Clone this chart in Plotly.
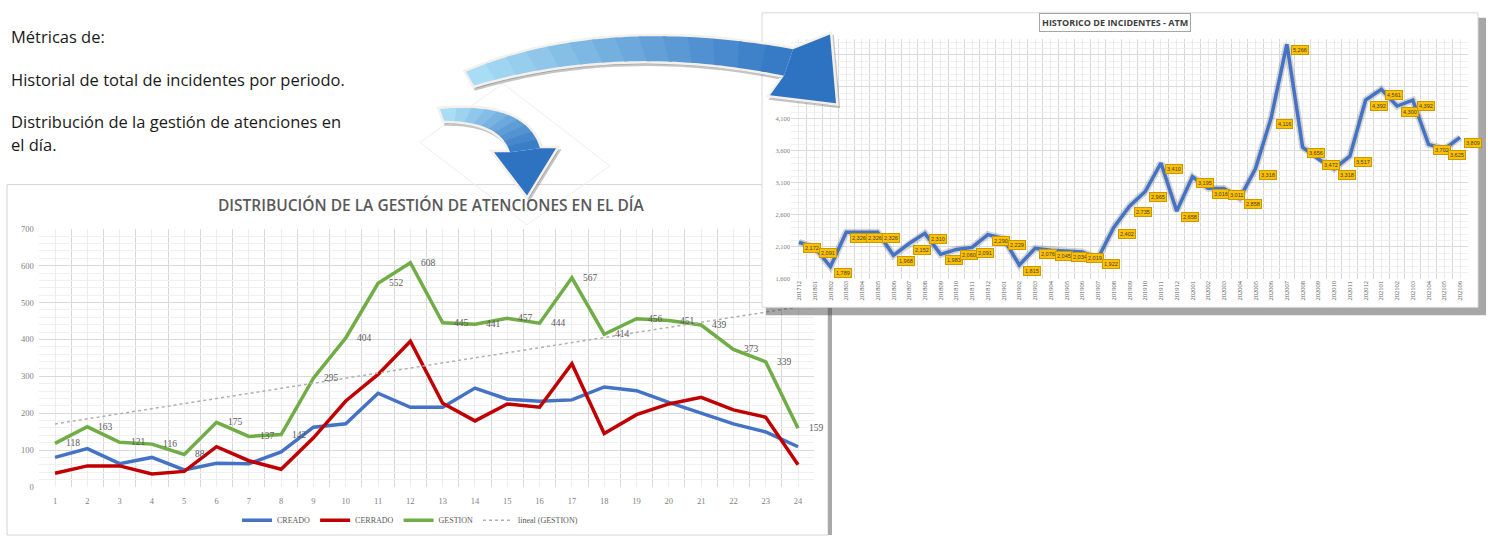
import numpy as np
import plotly.graph_objects as go

W, H = 1488, 540

# ---------------- data ----------------
texto = ["Métricas de:", "Historial de total de incidentes por periodo.",
         "Distribución de la gestión de atenciones en", "el día."]

horas = list(range(1, 25))
creado = [80, 104, 63, 80, 46, 64, 63, 95, 162, 171, 254, 216, 216, 268, 238, 232, 236, 271, 261, 229, 200, 171, 149, 109]
cerrado = [37, 57, 57, 35, 42, 109, 71, 48, 133, 233, 305, 395, 227, 179, 225, 216, 334, 145, 196, 225, 243, 209, 189, 60]
gestion = [118, 163, 121, 116, 88, 175, 137, 142, 295, 404, 552, 608, 445, 441, 457, 444, 567, 414, 456, 451, 439, 373, 339, 159]
series_nombres = ["CREADO", "CERRADO", "GESTION"]
titulo_izq = "DISTRIBUCIÓN DE LA GESTIÓN DE ATENCIONES EN EL DÍA"

periodos = ["201712", "201801", "201802", "201803", "201804", "201805", "201806", "201807", "201808",
            "201809", "201810", "201811", "201812", "201901", "201902", "201903", "201904", "201905",
            "201906", "201907", "201908", "201909", "201910", "201911", "201912", "202001", "202002",
            "202003", "202004", "202005", "202006", "202007", "202008", "202009", "202010", "202011",
            "202012", "202101", "202102", "202103", "202104", "202105", "202106"]
incidentes = [2172, 2091, 1789, 2326, 2326, 2326, 1968, 2152, 2310, 1983, 2060, 2091, 2290, 2229,
              1815, 2076, 2045, 2034, 2019, 1922, 2402, 2735, 2965, 3410, 2658, 3195, 3016, 3011,
              2858, 3318, 4116, 5266, 3656, 3472, 3318, 3517, 4392, 4561, 4300, 4392, 3702, 3625, 3809]
titulo_der = "HISTORICO DE INCIDENTES - ATM"


# ---------------- helpers (pixel -> paper) ----------------
def pp(x, y):
    return x / W, 1 - y / H


def path(cmds, dx=0, dy=0):
    out = []
    for c in cmds:
        op, pts = c[0], c[1:]
        coords = []
        for (x, y) in pts:
            X, Y = pp(x + dx, y + dy)
            coords.append(f"{X:.5f},{Y:.5f}")
        out.append(op + " " + " ".join(coords))
    return " ".join(out)


def quad(p0, c, p1, t):
    return ((1 - t) ** 2 * p0[0] + 2 * (1 - t) * t * c[0] + t ** 2 * p1[0],
            (1 - t) ** 2 * p0[1] + 2 * (1 - t) * t * c[1] + t ** 2 * p1[1])


def mix(c1, c2, t):
    a = [int(c1[i:i + 2], 16) for i in (1, 3, 5)]
    b = [int(c2[i:i + 2], 16) for i in (1, 3, 5)]
    return "rgb(%d,%d,%d)" % tuple(round(a[k] + (b[k] - a[k]) * t) for k in range(3))


def poly_path(pts, dx=0, dy=0):
    cmds = [("M", pts[0])] + [("L", p) for p in pts[1:]] + [("Z",)]
    return path(cmds, dx, dy)


shapes = []
# left chart frame
x0, y0 = pp(7, 183)
x1, y1 = pp(828, 540)
shapes.append(dict(type="rect", xref="paper", yref="paper", x0=x0, y0=y1, x1=x1, y1=y0,
                   line=dict(color="#D4D4D4", width=1), fillcolor="white", layer="below"))
x0, y0 = pp(828, 186)
x1, y1 = pp(832, 540)
shapes.append(dict(type="rect", xref="paper", yref="paper", x0=x0, y0=y1, x1=x1, y1=y0,
                   line=dict(width=0), fillcolor="#A9A9A9", layer="below"))


def arrow(top, bot, head, c_tail, c_head, n=14):
    tpts = [quad(*top, i / 30) for i in range(31)]
    bpts = [quad(*bot, i / 30) for i in range(31)]
    outline = tpts + head + bpts[::-1]
    res = [dict(type="path", xref="paper", yref="paper", path=poly_path(outline, 2, 3),
                fillcolor="rgba(90,90,90,0.35)", line=dict(color="rgba(90,90,90,0.35)", width=4), layer="above"),
           dict(type="path", xref="paper", yref="paper", path=poly_path(outline),
                fillcolor="white", line=dict(color="#F4F1EC", width=5), layer="above")]
    for k in range(n):
        ta, tb = k / n, min(1, (k + 1.15) / n)
        ts = [ta + (tb - ta) * j / 4 for j in range(5)]
        seg = [quad(*top, t) for t in ts] + [quad(*bot, t) for t in ts[::-1]]
        res.append(dict(type="path", xref="paper", yref="paper", path=poly_path(seg),
                        fillcolor=mix(c_tail, c_head, k / n), line=dict(width=0), layer="above"))
    res.append(dict(type="path", xref="paper", yref="paper", path=poly_path([top[2]] + head + [bot[2]]),
                    fillcolor=c_head, line=dict(width=0), layer="above"))
    return res


# faint diamond behind small arrow
shapes.append(dict(type="path", xref="paper", yref="paper",
                   path=poly_path([(503, 80), (610, 164), (527, 224), (420, 140)]),
                   line=dict(color="#EEEEEE", width=1), layer="above"))
# big arrow
shapes += arrow(((466, 68), (600, 10), (793, 45)), ((474, 82), (620, 38), (784, 72)),
                [(830, 30), (836, 100), (770, 92)], "#A9DDF5", "#2E73C2")
# small arrow
shapes += arrow(((440, 106), (526, 98), (540, 146)), ((444, 118), (500, 118), (510, 150)),
                [(556, 146), (527, 194), (494, 150)], "#A9DDF5", "#2E73C2", n=10)

fig = go.Figure()

# ---------------- left chart (x, y) ----------------
cols = ["#4472C4", "#C00000", "#70AD47"]
for nm, vals, col in zip(series_nombres, [creado, cerrado, gestion], cols):
    fig.add_trace(go.Scatter(
        x=horas, y=vals, name=nm, mode="lines",
        line=dict(color=col, width=3.5), xaxis="x", yaxis="y", hoverinfo="skip"))

coef = np.polyfit(horas, gestion, 1)
tendencia = np.polyval(coef, horas)
fig.add_trace(go.Scatter(x=horas, y=tendencia, name=f"lineal ({series_nombres[2]})", mode="lines",
                         line=dict(color="#B0B0B0", width=1.5, dash="dot"), xaxis="x", yaxis="y",
                         hoverinfo="skip"))

# ---------------- right chart box (x2, y2) pixel space ----------------
bx = [766, 1486, 1486, 766, 766]
by = [13, 13, 316, 316, 13]
fig.add_trace(go.Scatter(x=bx, y=by, fill="toself", fillcolor="rgba(60,60,60,0.45)",
                         line=dict(width=0), mode="lines", xaxis="x2", yaxis="y2",
                         showlegend=False, hoverinfo="skip"))
bx = [762, 1478, 1478, 762, 762]
by = [8, 8, 308, 308, 8]
fig.add_trace(go.Scatter(x=bx, y=by, fill="toself", fillcolor="white",
                         line=dict(width=1, color="#D9D9D9"), mode="lines", xaxis="x2", yaxis="y2",
                         showlegend=False, hoverinfo="skip"))

# ---------------- right chart (x3, y3) ----------------
xi = list(range(len(periodos)))
fig.add_trace(go.Scatter(x=xi, y=incidentes, mode="lines", line=dict(color="rgba(0,0,0,0.16)", width=7),
                         xaxis="x3", yaxis="y3", showlegend=False, hoverinfo="skip"))
fig.add_trace(go.Scatter(x=xi, y=incidentes, mode="lines", line=dict(color="#4472C4", width=3.5),
                         xaxis="x3", yaxis="y3", showlegend=False, hoverinfo="skip"))

annotations = []
for t, yy in zip(texto, [32, 76, 119, 142]):
    ax, ay = pp(9, yy)
    annotations.append(dict(x=ax, y=ay, xref="paper", yref="paper", text=t, showarrow=False,
                            xanchor="left", yanchor="middle",
                            font=dict(family="Open Sans", size=16.5, color="#1A1A1A")))
ax, ay = pp(431, 204)
annotations.append(dict(x=ax, y=ay, xref="paper", yref="paper", text=titulo_izq, showarrow=False,
                        xanchor="center", yanchor="middle",
                        font=dict(family="Open Sans", size=15.5, color="#595959", weight=600)))
ax, ay = pp(1115, 18)
annotations.append(dict(x=ax, y=ay, xref="paper", yref="paper", text=titulo_der, showarrow=False,
                        xanchor="center", yanchor="middle",
                        font=dict(family="Open Sans", size=9, color="#404040", weight=700),
                        bordercolor="#A6A6A6", borderwidth=1, borderpad=2, bgcolor="white"))
for h, v in zip(horas, gestion):
    annotations.append(dict(x=h, y=v, xref="x", yref="y", text=str(v), showarrow=False,
                            xanchor="left", yanchor="middle", xshift=9,
                            font=dict(family="Liberation Serif", size=9.5, color="#595959")))
for i, v in enumerate(incidentes):
    annotations.append(dict(x=i, y=v, xref="x3", yref="y3", text=f"{v:,}", showarrow=False,
                            font=dict(family="Liberation Sans", size=5.5, color="#3A3A3A"),
                            bgcolor="#FFC000", bordercolor="#C99A00", borderwidth=1, borderpad=1,
                            xshift=13, yshift=-6))

tickfont = dict(family="Liberation Serif", size=8.5, color="#7F7F7F")
fig.update_layout(
    width=W, height=H, margin=dict(l=0, r=0, t=0, b=0),
    paper_bgcolor="white", plot_bgcolor="rgba(0,0,0,0)",
    shapes=shapes, annotations=annotations,
    showlegend=True,
    legend=dict(orientation="h", x=pp(410, 0)[0], xanchor="center", y=pp(0, 525)[1], yanchor="middle",
                font=dict(family="Liberation Serif", size=8, color="#595959"),
                bgcolor="rgba(0,0,0,0)", itemwidth=30),
    xaxis=dict(domain=[38.85 / W, 814.2 / W], range=[0.5, 24.5], tick0=1, dtick=1,
               showgrid=True, gridcolor="#EDEDED", zeroline=False, showline=False,
               tickfont=tickfont, ticklabelstandoff=8, anchor="y",
               minor=dict(tick0=0.5, dtick=1, showgrid=True, gridcolor="#D9D9D9")),
    yaxis=dict(domain=[1 - 491 / H, 1 - 228 / H], range=[0, 700], dtick=100,
               showgrid=True, gridcolor="#D9D9D9", zeroline=False, showline=False,
               tickfont=tickfont, ticklabelstandoff=4, anchor="x",
               minor=dict(dtick=20, showgrid=True, gridcolor="#F0F0F0")),
    xaxis2=dict(domain=[760 / W, 1487 / W], range=[760, 1487], visible=False, anchor="y2"),
    yaxis2=dict(domain=[1 - 318 / H, 1 - 4 / H], range=[318, 4], visible=False, anchor="x2"),
    xaxis3=dict(domain=[791.1 / W, 1467.9 / W], range=[-0.5, 42.5], tickmode="array",
                tickvals=xi, ticktext=periodos, tickangle=-90,
                showgrid=True, gridcolor="#EBEBEB", zeroline=False, showline=False,
                tickfont=dict(family="Liberation Serif", size=6.5, color="#595959"), anchor="y3",
                minor=dict(tick0=-0.5, dtick=1, showgrid=True, gridcolor="#D9D9D9")),
    yaxis3=dict(domain=[1 - 279 / H, 1 - 35 / H], range=[1600, 5342], tick0=1600, dtick=500,
                tickformat=",", showgrid=True, gridcolor="#D9D9D9", zeroline=False, showline=False,
                tickfont=dict(family="Liberation Serif", size=6.5, color="#7F7F7F"), anchor="x3",
                minor=dict(dtick=100, showgrid=True, gridcolor="#F0F0F0")),
)

fig.write_html("out.html")
